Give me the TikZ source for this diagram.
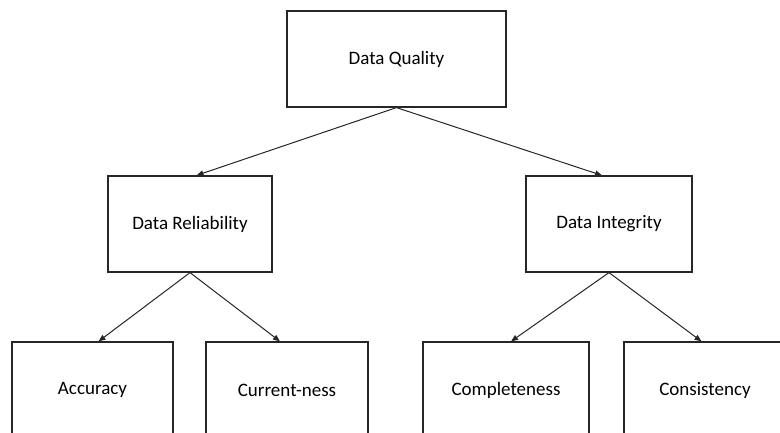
\documentclass[tikz,border=0pt]{standalone}
\usepackage{fontspec}
\setmainfont{Carlito}
\usetikzlibrary{arrows.meta}
\tikzset{
  box/.style  = {rectangle, draw=black!85, line width=1.2pt, minimum height=96pt, inner sep=0, font=\fontsize{19}{23}\selectfont},
  link/.style = {draw=black!85, line width=1pt, -{Triangle[length=7pt,width=5.5pt]}}
}
\begin{document}
\begin{tikzpicture}[x=1pt,y=1pt]
  \useasboundingbox (0,0) rectangle (780,432);

  \node[box, minimum width=219pt] (dq) at (396.5,373) {Data Quality};

  \node[box, minimum width=164pt] (dr) at (190,208) {Data Reliability};
  \node[box, minimum width=166pt] (di) at (609,208) {Data Integrity};

  \node[box, minimum width=161pt] (acc)  at (92.5,42) {Accuracy};
  \node[box, minimum width=162pt] (cur)  at (287,42)  {Current-ness};
  \node[box, minimum width=166pt] (comp) at (506,42)  {Completeness};
  \node[box, minimum width=162pt] (cons) at (705,42)  {Consistency};

  \draw[link] (dq.south) -- ([xshift=6.5pt]dr.north);
  \draw[link] (dq.south) -- ([xshift=-7pt]di.north);

  \draw[link] (dr.south) -- ([xshift=6pt]acc.north);
  \draw[link] (dr.south) -- ([xshift=-7pt]cur.north);
  \draw[link] (di.south) -- ([xshift=5pt]comp.north);
  \draw[link] (di.south) -- ([xshift=-3.5pt]cons.north);
\end{tikzpicture}
\end{document}
